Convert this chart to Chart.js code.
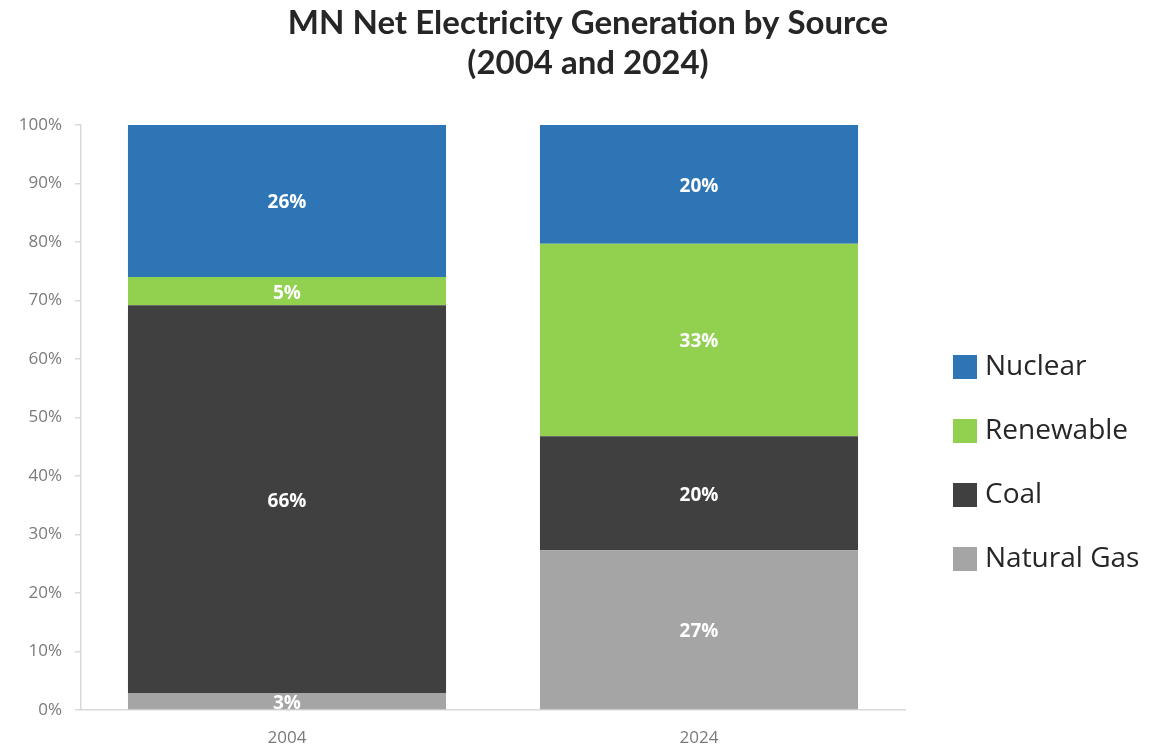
<!DOCTYPE html>
<html>
<head>
<meta charset="utf-8">
<script src="https://cdn.jsdelivr.net/npm/chart.js@4.4.1/dist/chart.umd.min.js"></script>
<style>
  html, body { margin: 0; padding: 0; background: #fff; }
  #wrap { width: 1153px; height: 748px; }
</style>
</head>
<body>
<div id="wrap"><canvas id="genChart"></canvas></div>
<script>
// data (percent of net generation)
const years = ['2004', '2024'];
const naturalGas = [2.9, 27.3];
const coal = [66.3, 19.5];
const renewable = [4.8, 32.9];
const nuclear = [26.0, 20.3];
const yTicks = [0, 10, 20, 30, 40, 50, 60, 70, 80, 90, 100];

const titleLines = ['MN Net Electricity Generation by Source', '(2004 and 2024)'];

// title + legend drawn by hand so they sit where the original has them
const extrasPlugin = {
    id: 'extras',
    afterDraw(chart) {
        const ctx = chart.ctx;
        ctx.save();
        ctx.fillStyle = '#262626';
        ctx.font = 'bold 33px Lato';
        ctx.textAlign = 'center';
        ctx.textBaseline = 'middle';
        ctx.fillText(titleLines[0], 588, 23);
        ctx.fillText(titleLines[1], 588, 63);

        // legend, top item = last dataset
        const ds = chart.data.datasets.slice().reverse();
        ctx.font = '28px "Open Sans"';
        ctx.textAlign = 'left';
        ds.forEach(function(d, i) {
            const cy = 367 + i * 64;
            ctx.fillStyle = d.backgroundColor;
            ctx.fillRect(953, cy - 12, 24, 24);
            ctx.fillStyle = '#262626';
            ctx.fillText(d.label, 985, cy);
        });
        ctx.restore();
    },
    afterDatasetsDraw(chart) {
        const ctx = chart.ctx;
        ctx.save();
        ctx.fillStyle = '#ffffff';
        ctx.font = 'bold 19px "Open Sans"';
        ctx.textAlign = 'center';
        ctx.textBaseline = 'middle';
        chart.data.datasets.forEach(function(d, di) {
            const meta = chart.getDatasetMeta(di);
            meta.data.forEach(function(bar, i) {
                const mid = (bar.y + bar.base) / 2;
                ctx.fillText(Math.round(d.data[i]) + '%', bar.x, mid + 2);
            });
        });
        ctx.restore();
    }
};

const ctx = document.getElementById('genChart').getContext('2d');
new Chart(ctx, {
    type: 'bar',
    data: {
        labels: years,
        datasets: [
            { label: 'Natural Gas', data: naturalGas, backgroundColor: '#a5a5a5' },
            { label: 'Coal', data: coal, backgroundColor: '#404040' },
            { label: 'Renewable', data: renewable, backgroundColor: '#92d050' },
            { label: 'Nuclear', data: nuclear, backgroundColor: '#2e75b6' }
        ]
    },
    options: {
        responsive: true,
        maintainAspectRatio: false,
        animation: false,
        datasets: {
            bar: { categoryPercentage: 1, barPercentage: 0.772, borderWidth: 0 }
        },
        layout: { padding: { top: 125, right: 248, bottom: 3, left: 0 } },
        plugins: {
            legend: { display: false },
            title: { display: false },
            tooltip: { enabled: false }
        },
        scales: {
            x: {
                stacked: true,
                afterFit(scale) { scale.height = 35; },
                grid: { display: false },
                border: { display: true, color: '#d9d9d9', width: 1.5 },
                ticks: { color: '#7a7a7a', font: { family: '"Open Sans"', size: 17 }, padding: 10 }
            },
            y: {
                stacked: true,
                min: 0,
                max: 100,
                afterFit(scale) { scale.width = 81; },
                afterBuildTicks(scale) { scale.ticks = yTicks.map(v => ({ value: v })); },
                grid: { drawOnChartArea: false, drawTicks: true, tickLength: 6, color: '#d9d9d9', lineWidth: 1.5 },
                border: { display: true, color: '#d9d9d9', width: 1.5 },
                ticks: {
                    color: '#7a7a7a',
                    font: { family: '"Open Sans"', size: 17 },
                    padding: 13,
                    callback: v => v + '%'
                }
            }
        }
    },
    plugins: [extrasPlugin]
});
</script>
</body>
</html>
